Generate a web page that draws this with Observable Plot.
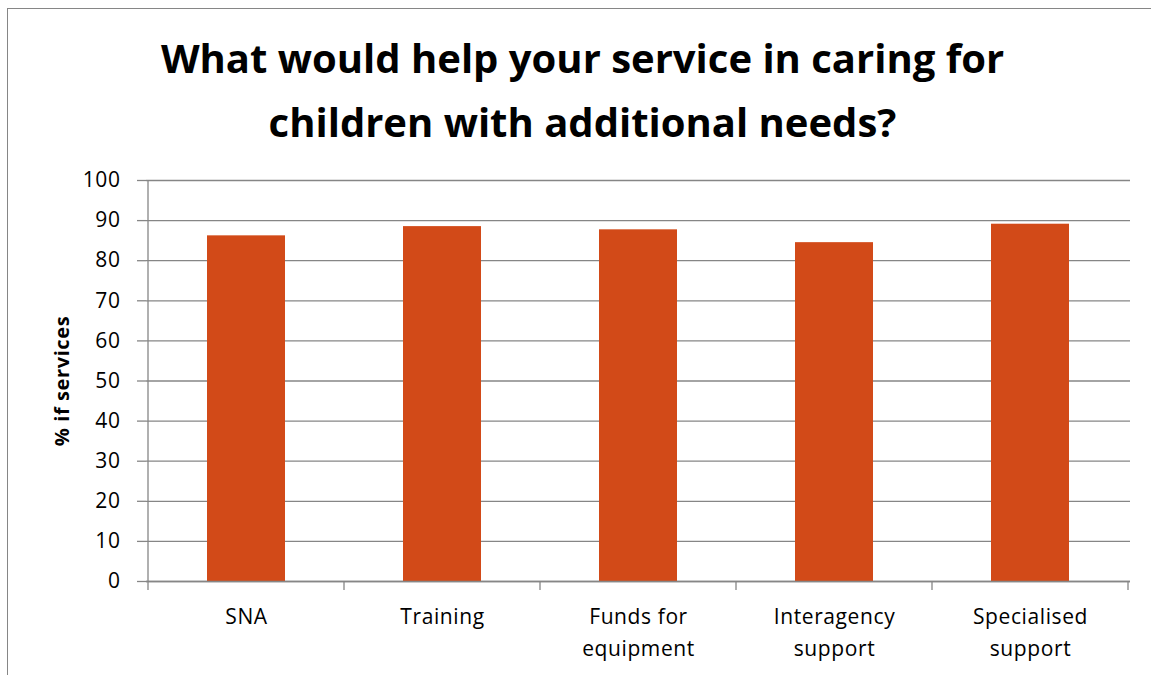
<!DOCTYPE html>
<html>
<head>
<meta charset="utf-8">
<script src="https://cdn.jsdelivr.net/npm/d3@7"></script>
<script src="https://cdn.jsdelivr.net/npm/@observablehq/plot@0.6"></script>
<style>
  html, body { margin: 0; padding: 0; background: #fff; }
  #wrap { position: relative; width: 1151px; height: 675px; overflow: hidden; font-family: "Open Sans", sans-serif; }
  #frame { position: absolute; left: 7px; top: 8px; width: 1200px; height: 700px; border-left: 1.5px solid #868686; border-top: 1.5px solid #868686; box-sizing: border-box; }
  #title { position: relative; height: 160px; box-sizing: border-box; padding-top: 26px; text-align: center; font-weight: bold; font-size: 40px; line-height: 64px; color: #000; padding-left: 14px; }
  #chart { position: relative; }
</style>
</head>
<body>
<div id="wrap">
  <div id="frame"></div>
  <div id="title">What would help your service in caring for<br>children with additional needs?</div>
  <div id="chart"></div>
</div>
<script>
const categories = ["SNA", "Training", "Funds for\nequipment", "Interagency\nsupport", "Specialised\nsupport"];
const values = [86.2, 88.5, 87.7, 84.5, 89.1];
const yTicks = [0, 10, 20, 30, 40, 50, 60, 70, 80, 90, 100];
const yLabel = "% if services";

const data = categories.map((c, i) => ({category: c, value: values[i]}));
const gray = "#868686";

const plot = Plot.plot({
  width: 1151,
  height: 515,
  marginTop: 20,
  marginBottom: 94,
  marginLeft: 146,
  marginRight: 21,
  style: {fontFamily: "'Open Sans', sans-serif", fontSize: "21px", color: "#000", background: "transparent", letterSpacing: "0.6px"},
  x: {domain: categories, paddingInner: 0.6, paddingOuter: 0.3, label: null},
  y: {domain: [0, 100], label: null},
  marks: [
    Plot.gridY(yTicks, {stroke: gray, strokeOpacity: 1, strokeWidth: 1.3}),
    Plot.barY(data, {x: "category", y: "value", fill: "#D24A18"}),
    Plot.axisY(yTicks, {tickSize: 9, tickPadding: 17, fontSize: 21, stroke: gray, strokeWidth: 1.3, label: null, fill: "#000"}),
    Plot.axisX({tickSize: 0, tickPadding: 20, fontSize: 21, lineHeight: 1.52, label: null, fill: "#000"}),
    Plot.ruleY([0], {stroke: gray, strokeWidth: 1.3}),
    Plot.text([yLabel], {frameAnchor: "left", textAnchor: "middle", rotate: -90, dx: -84, fontWeight: "bold", fontSize: 20, fill: "#000"})
  ]
});
document.getElementById("chart").appendChild(plot);

const svg = d3.select(plot);
const xs = plot.scale("x");
const ysc = plot.scale("y");
const step = xs.step, bw = xs.bandwidth;
const y0 = ysc.apply(0), y100 = ysc.apply(100);
const boundaries = categories.map(c => xs.apply(c) - (step - bw) / 2);
boundaries.push(boundaries[boundaries.length - 1] + step);
const g = svg.append("g").attr("stroke", gray).attr("stroke-width", 1.3);
// left axis line
g.append("line").attr("x1", boundaries[0]).attr("x2", boundaries[0]).attr("y1", y100).attr("y2", y0);
// bottom category boundary ticks
boundaries.forEach(b => g.append("line").attr("x1", b).attr("x2", b).attr("y1", y0).attr("y2", y0 + 9));
</script>
</body>
</html>
